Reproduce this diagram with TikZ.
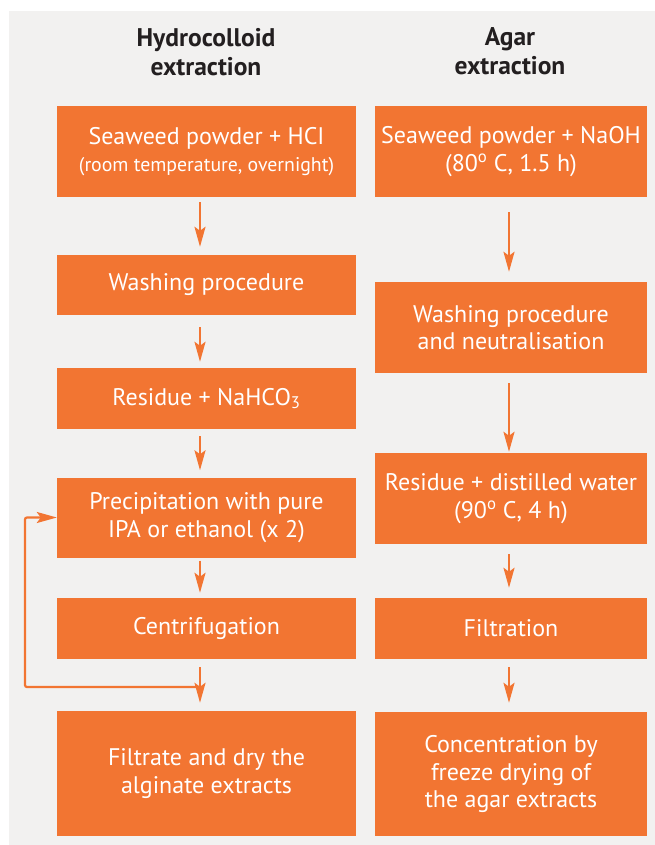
\documentclass[tikz,border=0pt]{standalone}
\usepackage{fontspec}
\setmainfont{PT Sans}
\usetikzlibrary{arrows.meta,calc}
\definecolor{orng}{RGB}{242,117,50}
\definecolor{bggray}{RGB}{242,241,240}
\definecolor{ink}{RGB}{35,31,32}
\tikzset{
  box/.style={fill=orng, text=white, align=center, inner sep=0pt,
    font=\fontsize{24}{27.5}\selectfont},
  lbox/.style={box, minimum width=299pt},
  rbox/.style={box, minimum width=272pt},
  ttl/.style={text=ink, align=center, font=\fontsize{25.5}{29}\selectfont\bfseries},
  arr/.style={draw=orng, line width=2.4pt, -{Stealth[length=20pt,width=11pt,inset=4pt]}},
}
\begin{document}
\begin{tikzpicture}[x=1pt,y=-1pt]
\useasboundingbox (0,0) rectangle (655,845);
\fill[white] (0,0) rectangle (655,845);
\fill[bggray] (9,11) rectangle (655,845);

\node[ttl] (t1) at (206,52) {Hydrocolloid\\extraction};
\node[ttl] (t2) at (510,51) {Agar\\extraction};

\node[lbox, minimum height=91pt] (L1) at (206.5,151.5) {Seaweed powder + HCI\\[-1pt]{\fontsize{19.8}{24}\selectfont (room temperature, overnight)}};
\node[lbox, minimum height=60pt] (L2) at (206.5,285) {Washing procedure};
\node[lbox, minimum height=61pt] (L3) at (206.5,398.5) {Residue + NaHCO\textsubscript{3}};
\node[lbox, minimum height=80pt] (L4) at (206.5,517.5) {Precipitation with pure\\IPA or ethanol (x 2)};
\node[lbox, minimum height=61pt] (L5) at (206.5,628.5) {Centrifugation};
\node[lbox, minimum height=125pt] (L6) at (206.5,773.5) {Filtrate and dry the\\alginate extracts};

\node[rbox, minimum height=91pt] (R1) at (511,151.5) {Seaweed powder + NaOH\\(80\textsuperscript{o} C, 1.5 h)};
\node[rbox, minimum height=91pt] (R2) at (511,327.5) {Washing procedure\\and neutralisation};
\node[rbox, minimum height=91pt] (R3) at (511,498.5) {Residue + distilled water\\(90\textsuperscript{o} C, 4 h)};
\node[rbox, minimum height=61pt] (R4) at (511,628.5) {Filtration};
\node[rbox, minimum height=124pt] (R5) at (511,774) {Concentration by\\freeze drying of\\the agar extracts};

\coordinate (ax) at (200,0);
\coordinate (bx) at (509,0);
\coordinate (lp) at (25,0);

\draw[arr, shorten <=5pt, shorten >=8pt] (L1.south -| ax) -- (L2.north -| ax);
\draw[arr, shorten <=12pt, shorten >=6pt] (L2.south -| ax) -- (L3.north -| ax);
\draw[arr, shorten <=7pt, shorten >=7pt] (L3.south -| ax) -- (L4.north -| ax);
\draw[arr, shorten <=3pt, shorten >=5pt] (L4.south -| ax) -- (L5.north -| ax);
\draw[arr, shorten <=8pt, shorten >=8pt] (L5.south -| ax) -- (L6.north -| ax);
\coordinate (jp) at ($(L5.south -| ax)!0.54!(L6.north -| ax)$);
\draw[draw=orng, line width=2.2pt, rounded corners=2pt, -{Stealth[length=20pt,width=11pt,inset=4pt]}]
  (jp) -- (jp -| lp) -- (L4.west -| lp) -- (L4.west);

\draw[arr, shorten <=15pt, shorten >=10pt] (R1.south -| bx) -- (R2.north -| bx);
\draw[arr, shorten <=10pt, shorten >=1pt] (R2.south -| bx) -- (R3.north -| bx);
\draw[arr, shorten <=10pt, shorten >=10pt] (R3.south -| bx) -- (R4.north -| bx);
\draw[arr, shorten <=8pt, shorten >=9pt] (R4.south -| bx) -- (R5.north -| bx);
\end{tikzpicture}
\end{document}
